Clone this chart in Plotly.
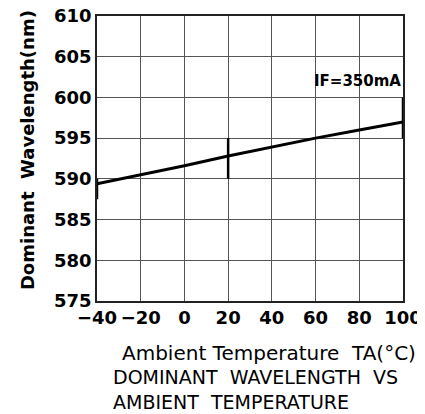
import plotly.graph_objects as go

temps = [-40, -20, 0, 20, 40, 60, 80, 100]
wavelength = [589.4, 590.5, 591.6, 592.8, 593.9, 595.0, 596.0, 597.0]

bar_x = [-40, 20, 100]
bar_low = [587.5, 590.0, 595.0]
bar_high = [590.0, 595.0, 600.0]

x_ticks = [-40, -20, 0, 20, 40, 60, 80, 100]
x_tick_labels = ["\u221240", "\u221220", "0", "20", "40", "60", "80", "100"]
y_ticks = [575, 580, 585, 590, 595, 600, 605, 610]

font_fam = "DejaVu Sans"

fig = go.Figure()
fig.add_trace(go.Scatter(x=temps, y=wavelength, mode="lines",
                         line=dict(color="black", width=3), showlegend=False))
for bx, lo, hi in zip(bar_x, bar_low, bar_high):
    fig.add_trace(go.Scatter(x=[bx, bx], y=[lo, hi], mode="lines",
                             line=dict(color="black", width=2.5), showlegend=False,
                             cliponaxis=False))

fig.add_annotation(x=100, y=602.0, xref="x", yref="y", text="<b>IF=350mA</b>",
                   showarrow=False, xanchor="right", yanchor="middle",
                   font=dict(family=font_fam, size=15, color="black"))

fig.add_annotation(x=-0.225, y=0.53, xref="paper", yref="paper",
                   text="<b>Dominant  Wavelength(nm)</b>", showarrow=False,
                   textangle=-90, xanchor="center", yanchor="middle",
                   font=dict(family=font_fam, size=18, color="black"))

fig.add_annotation(x=1.05, y=-0.135, xref="paper", yref="paper",
                   text="Ambient Temperature  TA(\u00b0C)", showarrow=False,
                   xanchor="right", yanchor="top",
                   font=dict(family=font_fam, size=20, color="black"))
fig.add_annotation(x=0.045, y=-0.22, xref="paper", yref="paper",
                   text="DOMINANT  WAVELENGTH  VS<br>AMBIENT  TEMPERATURE", showarrow=False,
                   xanchor="left", yanchor="top", align="left",
                   font=dict(family=font_fam, size=19, color="black"))

fig.update_layout(
    width=417, height=406,
    margin=dict(l=89, r=22, t=8, b=113),
    plot_bgcolor="white", paper_bgcolor="white",
    font=dict(family=font_fam, color="black"),
    xaxis=dict(range=[-40, 100], tickvals=x_ticks, ticktext=x_tick_labels,
               automargin=False, ticklabeloverflow="allow",
               showgrid=True, gridcolor="#555", gridwidth=1, zeroline=False,
               showline=True, linecolor="#222", linewidth=1.5, mirror=True,
               ticks="", tickfont=dict(size=18, family=font_fam, weight="bold")),
    yaxis=dict(range=[575, 610], tickvals=y_ticks, automargin=False,
               ticklabeloverflow="allow",
               showgrid=True, gridcolor="#555", gridwidth=1, zeroline=False,
               showline=True, linecolor="#222", linewidth=1.5, mirror=True,
               ticks="", tickfont=dict(size=18, family=font_fam, weight="bold")),
)

fig.write_html("out.html")
